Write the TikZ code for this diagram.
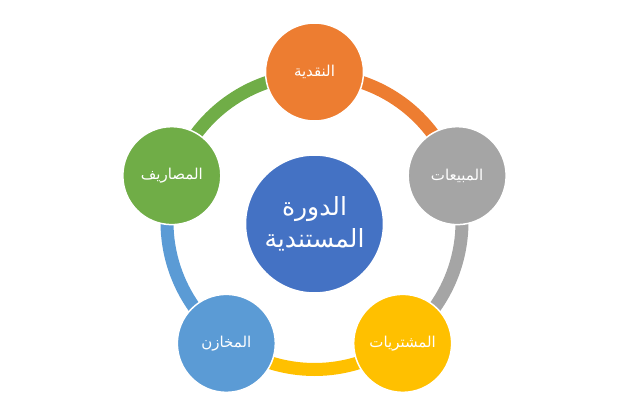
\documentclass[tikz,border=0pt]{standalone}
\usepackage{fontspec}
\setmainfont{Liberation Sans}
\newfontfamily\arabicfont[Script=Arabic]{DejaVu Sans}
\TeXXeTstate=1
\definecolor{cashorange}{HTML}{ED7D31}
\definecolor{salesgray}{HTML}{A5A5A5}
\definecolor{buyyellow}{HTML}{FFC000}
\definecolor{storeblue}{HTML}{5B9BD5}
\definecolor{costgreen}{HTML}{70AD47}
\definecolor{coreblue}{HTML}{4472C4}
\tikzset{
  stage/.style = {circle, fill=#1, draw=white, line width=1.5pt, minimum size=98pt,
    inner sep=0pt, text=white, font=\arabicfont\fontsize{15}{17}\selectfont},
  ringarc/.style = {draw=#1, line width=13pt}
}

\begin{document}
\begin{tikzpicture}[x=1pt,y=1pt]
  \def\RingRadius{147.5}
  \def\StageRadius{150}
  \useasboundingbox (-314.5,-196) rectangle (325.5,222);
  % ring
  \coordinate (ring) at (0,0);
  \foreach \a/\c in {90/cashorange,18/salesgray,-54/buyyellow,-126/storeblue,162/costgreen} {
    \draw[ringarc=\c] (ring) ++(\a:\RingRadius) arc[start angle=\a, delta angle=-72, radius=\RingRadius];
  }
  % centre
  \node[stage=coreblue, minimum size=138pt, align=center,
    font=\arabicfont\fontsize{25}{32}\selectfont] (core) at (0,-2) {\beginR الدورة\endR\\\beginR المستندية\endR};
  % stages
  \node[stage=cashorange] (cash) at (90:\StageRadius) {\beginR النقدية\endR};
  \node[stage=salesgray] (sales) at (18:\StageRadius) {\beginR المبيعات\endR};
  \node[stage=buyyellow] (purchases) at (-54:\StageRadius) {\beginR المشتريات\endR};
  \node[stage=storeblue] (stores) at (-126:\StageRadius) {\beginR المخازن\endR};
  \node[stage=costgreen] (costs) at (162:\StageRadius) {\beginR المصاريف\endR};
\end{tikzpicture}
\end{document}
